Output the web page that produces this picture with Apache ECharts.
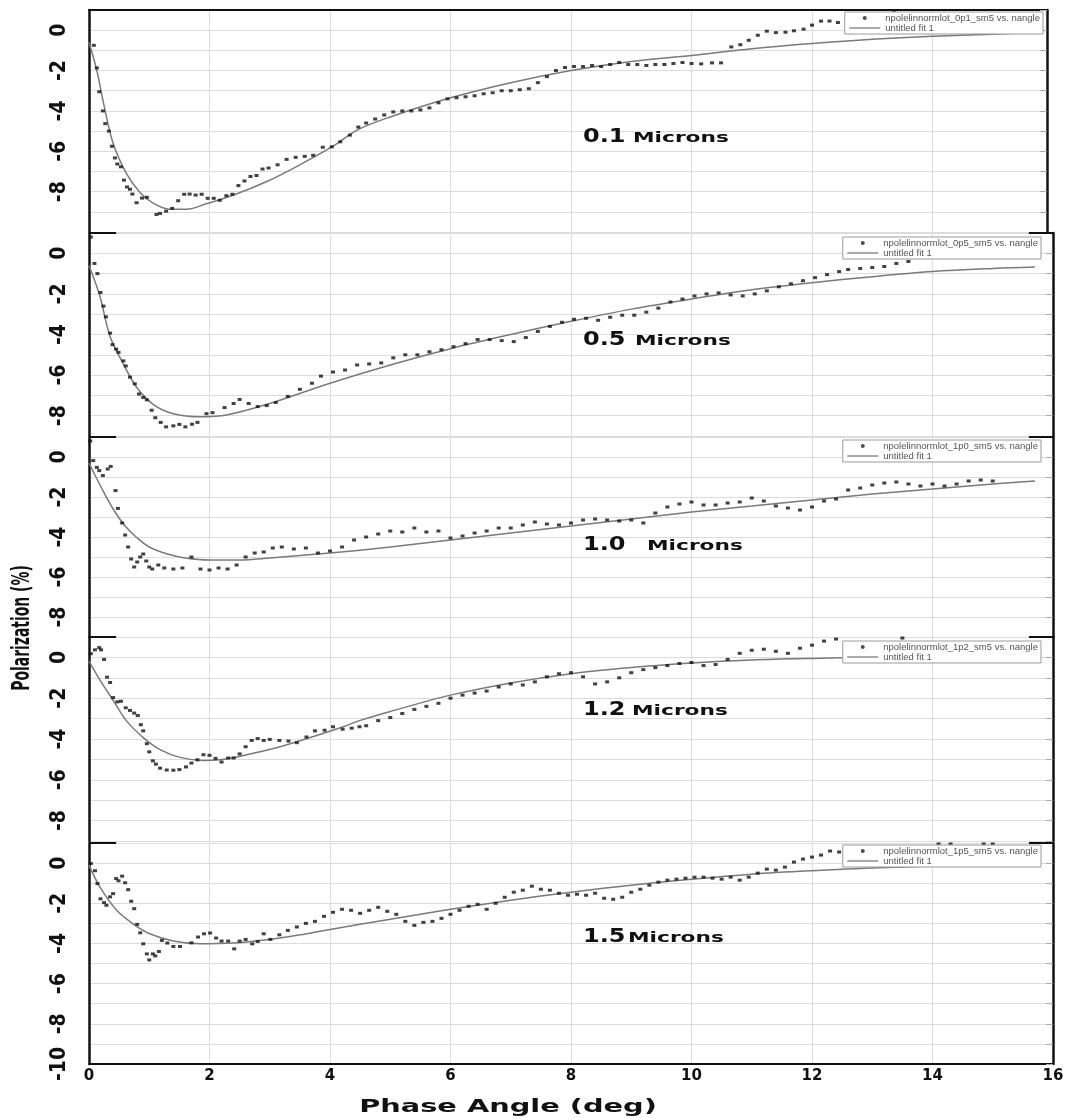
<!DOCTYPE html>
<html>
<head>
<meta charset="utf-8">
<script src="https://cdn.jsdelivr.net/npm/echarts@6/dist/echarts.min.js"></script>
<style>
  html, body { margin: 0; padding: 0; background: #ffffff; }
  #chart { width: 1078px; height: 1118px; }
</style>
</head>
<body>
<div id="chart"></div>
<script>
// ---------------- data ----------------
const sizeLabels = ['0.1', '0.5', '1.0', '1.2', '1.5'];
const dataNames = [
  'npolelinnormlot_0p1_sm5 vs. nangle',
  'npolelinnormlot_0p5_sm5 vs. nangle',
  'npolelinnormlot_1p0_sm5 vs. nangle',
  'npolelinnormlot_1p2_sm5 vs. nangle',
  'npolelinnormlot_1p5_sm5 vs. nangle'
];
const fitName = 'untitled fit 1';

// 0.1 micron: measured polarization (%) vs phase angle (deg)
const angle01 = [0.08,0.13,0.17,0.23,0.27,0.33,0.38,0.43,0.47,0.53,0.58,0.63,0.68,0.72,0.79,0.88,0.96,1.12,1.18,1.28,1.38,1.48,1.58,1.67,1.77,1.87,1.97,2.07,2.17,2.28,2.38,2.48,2.58,2.68,2.78,2.88,2.98,3.13,3.28,3.43,3.58,3.72,3.88,4.03,4.17,4.33,4.47,4.6,4.75,4.9,5.05,5.2,5.35,5.5,5.65,5.8,5.95,6.1,6.25,6.4,6.55,6.7,6.85,7.0,7.15,7.3,7.45,7.6,7.75,7.9,8.05,8.2,8.35,8.5,8.65,8.8,8.95,9.1,9.25,9.4,9.55,9.7,9.85,10.0,10.16,10.34,10.49,10.66,10.81,10.95,11.1,11.25,11.4,11.56,11.7,11.86,12.0,12.15,12.29,12.43,13.36];
const pol01   = [-0.75,-1.87,-3.05,-4.0,-4.63,-5.0,-5.75,-6.33,-6.63,-6.77,-7.43,-7.77,-7.88,-8.12,-8.55,-8.32,-8.28,-9.13,-9.08,-8.97,-8.83,-8.45,-8.13,-8.12,-8.17,-8.13,-8.33,-8.33,-8.43,-8.2,-8.13,-7.7,-7.47,-7.25,-7.2,-6.88,-6.83,-6.67,-6.4,-6.3,-6.25,-6.2,-5.8,-5.78,-5.53,-5.2,-4.8,-4.6,-4.4,-4.2,-4.05,-4.0,-4.0,-3.95,-3.85,-3.6,-3.4,-3.35,-3.3,-3.25,-3.15,-3.1,-3.0,-3.0,-2.95,-2.9,-2.6,-2.3,-2.0,-1.85,-1.8,-1.8,-1.75,-1.8,-1.7,-1.6,-1.7,-1.7,-1.75,-1.7,-1.7,-1.65,-1.6,-1.65,-1.67,-1.62,-1.62,-0.83,-0.72,-0.5,-0.25,-0.05,-0.12,-0.1,-0.03,0.05,0.25,0.45,0.45,0.38,0.87];
const fitAngle01 = [0,0.13,0.24,0.4,0.63,0.85,1.07,1.34,1.62,1.95,2.4,2.95,3.5,4.05,4.45,5,6,7,8,9,10,11,12,13,14,15,15.7];
const fit01      = [-0.6,-2.0,-3.6,-5.6,-7.15,-8.05,-8.58,-8.87,-8.87,-8.6,-8.17,-7.5,-6.67,-5.75,-4.95,-4.3,-3.35,-2.6,-2.0,-1.55,-1.25,-0.92,-0.66,-0.45,-0.3,-0.2,-0.12];

// 0.5 micron
const angle05 = [0.03,0.09,0.14,0.19,0.24,0.28,0.35,0.39,0.45,0.49,0.57,0.61,0.68,0.76,0.83,0.9,0.96,1.04,1.1,1.19,1.28,1.4,1.5,1.6,1.71,1.8,1.95,2.05,2.25,2.4,2.5,2.65,2.8,2.95,3.1,3.3,3.5,3.7,3.85,4.05,4.25,4.45,4.65,4.85,5.05,5.25,5.45,5.65,5.85,6.05,6.25,6.45,6.65,6.85,7.05,7.25,7.45,7.65,7.85,8.05,8.25,8.45,8.65,8.85,9.05,9.25,9.45,9.65,9.85,10.05,10.25,10.45,10.65,10.85,11.05,11.25,11.45,11.65,11.85,12.05,12.25,12.45,12.6,12.8,13.0,13.2,13.4,13.6,13.8,14.0,14.2,14.42];
const pol05   = [0.8,-0.5,-1.0,-1.93,-2.6,-3.13,-3.93,-4.5,-4.72,-4.88,-5.3,-5.55,-6.1,-6.43,-6.93,-7.1,-7.22,-7.73,-8.1,-8.33,-8.55,-8.5,-8.43,-8.55,-8.42,-8.33,-7.9,-7.85,-7.6,-7.4,-7.2,-7.4,-7.55,-7.5,-7.35,-7.05,-6.7,-6.4,-6.05,-5.85,-5.75,-5.5,-5.45,-5.4,-5.15,-5.0,-5.0,-4.85,-4.75,-4.6,-4.45,-4.25,-4.25,-4.3,-4.35,-4.15,-3.85,-3.6,-3.4,-3.25,-3.2,-3.3,-3.15,-3.05,-3.05,-2.9,-2.7,-2.4,-2.25,-2.1,-2.0,-1.95,-2.05,-2.1,-2.0,-1.85,-1.65,-1.5,-1.35,-1.2,-1.05,-0.9,-0.8,-0.75,-0.7,-0.65,-0.5,-0.4,-0.2,-0.05,0.15,0.1];
const fitAngle05 = [0,0.18,0.35,0.57,0.79,1.07,1.4,1.84,2.3,3,4,5,6,7,8,9,10,11,12,13,14,15,15.7];
const fit05      = [-0.6,-2.1,-4.1,-5.45,-6.6,-7.45,-7.9,-8.05,-7.95,-7.4,-6.4,-5.5,-4.7,-4.0,-3.35,-2.75,-2.25,-1.8,-1.45,-1.15,-0.9,-0.75,-0.68];

// 1.0 micron
const angle10 = [0.02,0.07,0.13,0.17,0.23,0.31,0.36,0.44,0.48,0.55,0.6,0.65,0.7,0.75,0.8,0.85,0.9,0.95,1.0,1.05,1.15,1.25,1.4,1.55,1.7,1.85,2.0,2.15,2.3,2.45,2.6,2.75,2.9,3.05,3.2,3.4,3.6,3.8,4.0,4.2,4.4,4.6,4.8,5.0,5.2,5.4,5.6,5.8,6.0,6.2,6.4,6.6,6.8,7.0,7.2,7.4,7.6,7.8,8.0,8.2,8.4,8.6,8.8,9.0,9.2,9.4,9.6,9.8,10.0,10.2,10.4,10.6,10.8,11.0,11.2,11.4,11.6,11.8,12.0,12.2,12.4,12.6,12.8,13.0,13.2,13.4,13.6,13.8,14.0,14.2,14.4,14.6,14.8,15.0];
const pol10   = [0.8,-0.18,-0.52,-0.68,-0.93,-0.6,-0.47,-1.68,-2.57,-3.3,-3.9,-4.5,-5.1,-5.5,-5.25,-5.0,-4.85,-5.2,-5.5,-5.6,-5.4,-5.55,-5.6,-5.55,-5.0,-5.6,-5.65,-5.55,-5.6,-5.4,-5.0,-4.8,-4.75,-4.55,-4.5,-4.6,-4.55,-4.8,-4.7,-4.5,-4.15,-4.0,-3.85,-3.7,-3.75,-3.55,-3.75,-3.7,-4.05,-3.95,-3.8,-3.7,-3.55,-3.55,-3.4,-3.25,-3.35,-3.4,-3.3,-3.15,-3.1,-3.15,-3.2,-3.15,-3.3,-2.8,-2.5,-2.35,-2.25,-2.4,-2.4,-2.3,-2.25,-2.05,-2.2,-2.45,-2.55,-2.65,-2.5,-2.2,-2.1,-1.65,-1.55,-1.4,-1.3,-1.25,-1.35,-1.45,-1.35,-1.45,-1.35,-1.2,-1.15,-1.2];
const fitAngle10 = [0,0.2,0.4,0.6,0.8,1.0,1.3,1.6,2.0,2.5,3,4,5,6,7,8,9,10,11,12,13,14,15,15.7];
const fit10      = [-0.3,-1.5,-2.6,-3.45,-4.05,-4.5,-4.85,-5.05,-5.15,-5.15,-5.05,-4.8,-4.5,-4.15,-3.8,-3.45,-3.1,-2.75,-2.45,-2.15,-1.85,-1.6,-1.35,-1.2];

// 1.2 micron
const angle12 = [0.03,0.1,0.17,0.2,0.25,0.3,0.35,0.4,0.47,0.53,0.61,0.68,0.75,0.81,0.86,0.9,0.96,1.0,1.06,1.11,1.18,1.29,1.4,1.5,1.61,1.7,1.8,1.9,2.0,2.1,2.2,2.31,2.4,2.5,2.6,2.7,2.8,2.9,3.0,3.16,3.31,3.45,3.61,3.75,3.91,4.05,4.21,4.36,4.49,4.6,4.8,5.0,5.2,5.4,5.6,5.8,6.0,6.2,6.4,6.6,6.8,7.0,7.2,7.4,7.6,7.8,8.0,8.2,8.4,8.6,8.8,9.0,9.2,9.4,9.6,9.8,10.0,10.2,10.4,10.6,10.8,11.0,11.2,11.4,11.6,11.8,12.0,12.2,12.4,13.5];
const pol12   = [0.18,0.37,0.48,0.37,-0.1,-0.97,-1.23,-1.97,-2.18,-2.15,-2.47,-2.6,-2.73,-2.85,-3.3,-3.6,-4.23,-4.63,-5.07,-5.23,-5.43,-5.52,-5.53,-5.5,-5.37,-5.18,-5.02,-4.77,-4.8,-4.95,-5.13,-4.93,-4.93,-4.73,-4.38,-4.07,-3.98,-4.07,-4.02,-4.07,-4.1,-4.18,-3.9,-3.6,-3.57,-3.4,-3.52,-3.47,-3.4,-3.35,-3.1,-2.95,-2.75,-2.55,-2.4,-2.25,-2.0,-1.85,-1.75,-1.65,-1.45,-1.3,-1.35,-1.2,-0.95,-0.8,-0.75,-0.95,-1.3,-1.2,-1.0,-0.75,-0.6,-0.5,-0.4,-0.3,-0.25,-0.4,-0.35,-0.1,0.2,0.35,0.4,0.3,0.2,0.45,0.6,0.8,0.9,0.95];
const fitAngle12 = [0,0.18,0.4,0.62,0.9,1.18,1.51,1.9,2.17,2.62,3.11,3.67,4.22,4.49,5,6,7,8,9,10,11,12,13,14,15,15.7];
const fit12      = [-0.18,-1.1,-2.1,-3.1,-3.93,-4.52,-4.9,-5.05,-5.02,-4.77,-4.43,-3.93,-3.4,-3.1,-2.65,-1.85,-1.25,-0.8,-0.5,-0.28,-0.13,-0.05,0.0,0.02,0.04,0.05];

// 1.5 micron
const angle15 = [0.03,0.1,0.14,0.19,0.25,0.29,0.35,0.4,0.45,0.49,0.55,0.6,0.65,0.7,0.75,0.8,0.85,0.9,0.96,1.0,1.06,1.1,1.16,1.21,1.3,1.4,1.51,1.7,1.81,1.91,2.01,2.11,2.2,2.31,2.41,2.5,2.6,2.71,2.8,2.9,3.01,3.16,3.3,3.45,3.6,3.75,3.9,4.05,4.2,4.35,4.5,4.65,4.8,4.95,5.1,5.25,5.4,5.55,5.7,5.85,6.0,6.15,6.3,6.45,6.6,6.75,6.9,7.05,7.2,7.35,7.5,7.65,7.8,7.95,8.1,8.25,8.4,8.55,8.7,8.85,9.0,9.15,9.3,9.45,9.6,9.75,9.9,10.05,10.2,10.35,10.5,10.65,10.8,10.95,11.1,11.25,11.4,11.55,11.7,11.85,12.0,12.15,12.3,12.45,14.1,14.3,14.85,15.0];
const pol15   = [-0.02,-0.38,-1.02,-1.78,-1.97,-2.1,-1.68,-1.52,-0.77,-0.88,-0.65,-0.98,-1.32,-1.9,-2.27,-3.05,-3.47,-4.02,-4.52,-4.82,-4.52,-4.62,-4.4,-3.85,-3.98,-4.15,-4.15,-3.97,-3.68,-3.52,-3.48,-3.73,-3.88,-3.88,-4.27,-3.88,-3.8,-4.02,-3.9,-3.52,-3.8,-3.57,-3.35,-3.18,-3.0,-2.9,-2.65,-2.45,-2.3,-2.35,-2.5,-2.35,-2.2,-2.4,-2.55,-2.9,-3.1,-2.95,-2.9,-2.75,-2.55,-2.35,-2.15,-2.05,-2.3,-2.0,-1.7,-1.45,-1.35,-1.15,-1.3,-1.35,-1.5,-1.6,-1.55,-1.6,-1.5,-1.75,-1.8,-1.7,-1.45,-1.3,-1.1,-0.95,-0.85,-0.8,-0.75,-0.7,-0.7,-0.75,-0.8,-0.7,-0.85,-0.7,-0.5,-0.3,-0.35,-0.2,0.05,0.2,0.3,0.4,0.6,0.55,0.95,0.95,0.95,0.95];
const fitAngle15 = [0,0.18,0.46,0.73,1.01,1.4,1.84,2.39,2.95,3.5,4,5,6,7,8,9,10,11,12,13,14,15,15.7];
const fit15      = [-0.1,-1.18,-2.35,-3.02,-3.52,-3.88,-4.02,-3.98,-3.82,-3.57,-3.3,-2.8,-2.3,-1.85,-1.45,-1.1,-0.8,-0.55,-0.38,-0.25,-0.15,-0.08,-0.05];

const measured = [[angle01, pol01], [angle05, pol05], [angle10, pol10], [angle12, pol12], [angle15, pol15]];
const fitted   = [[fitAngle01, fit01], [fitAngle05, fit05], [fitAngle10, fit10], [fitAngle12, fit12], [fitAngle15, fit15]];

// ---------------- layout ----------------
const plotLeft = 89;
const panels = [
  { top: 10,  height: 222, yMin: -10, yMax: 1, xMax: 15.9, right: 31, legendTop: 12,  legendRight: 35, labelY: 137 },
  { top: 233, height: 203, yMin: -9,  yMax: 1, xMax: 16,   right: 25, legendTop: 237, legendRight: 37, labelY: 340 },
  { top: 437, height: 200, yMin: -9,  yMax: 1, xMax: 16,   right: 25, legendTop: 440, legendRight: 37, labelY: 545 },
  { top: 637, height: 204, yMin: -9,  yMax: 1, xMax: 16,   right: 25, legendTop: 641, legendRight: 37, labelY: 710 },
  { top: 843, height: 221, yMin: -10, yMax: 1, xMax: 16,   right: 25, legendTop: 845, legendRight: 37, labelY: 937 }
];
// horizontal start of the "Microns" word in each panel
const micronsX = [633, 635, 647, 632, 628];

const gridColor = '#dcdcdc';
const pairs = (xs, ys) => xs.map((x, i) => [x, ys[i]]);

const grid = [], xAxis = [], yAxis = [], series = [], legend = [], graphic = [];

panels.forEach((p, i) => {
  const last = i === panels.length - 1;
  grid.push({ left: plotLeft, right: p.right, top: p.top, height: p.height, containLabel: false });

  xAxis.push({
    type: 'value', gridIndex: i, min: 0, max: p.xMax, interval: 2, position: 'bottom',
    axisLine: { show: last, onZero: false, lineStyle: { color: '#111', width: 2 } },
    axisTick: { show: false },
    axisLabel: {
      show: last, margin: 5, color: '#111',
      fontFamily: 'DejaVu Sans', fontWeight: 'bold', fontSize: 15
    },
    splitLine: { show: true, lineStyle: { color: gridColor, width: 1 } }
  });

  // left axis: polarization scale, labelled every 2 %
  yAxis.push({
    type: 'value', gridIndex: i, min: p.yMin, max: p.yMax, interval: 1, position: 'left',
    axisLine: { show: true, onZero: false, lineStyle: { color: '#111', width: 2.5 } },
    axisTick: { show: false },
    axisLabel: {
      show: true, rotate: 90, margin: 19, color: '#111',
      fontFamily: '"Liberation Sans Narrow", "DejaVu Sans Condensed", sans-serif',
      fontWeight: 'bold', fontSize: 21,
      formatter: v => {
        if (v === 1) return '';
        if (v === -10 && !last) return '';
        return v % 2 === 0 ? String(v) : '';
      }
    },
    splitLine: { show: true, lineStyle: { color: gridColor, width: 1 } }
  });
  // right frame edge with short inner ticks
  yAxis.push({
    type: 'value', gridIndex: i, min: p.yMin, max: p.yMax, interval: 1, position: 'right',
    axisLine: { show: true, onZero: false, lineStyle: { color: '#111', width: 2.5 } },
    axisTick: { show: true, inside: true, length: 7, lineStyle: { color: '#aaa', width: 1 } },
    axisLabel: { show: false },
    splitLine: { show: false }
  });

  const [xs, ys] = measured[i];
  const [fx, fy] = fitted[i];

  series.push({
    name: dataNames[i], type: 'scatter', xAxisIndex: i, yAxisIndex: 2 * i,
    symbol: 'rect', symbolSize: [4, 3],
    itemStyle: { color: '#111' },
    data: pairs(xs, ys), silent: true, z: 3
  });
  const stubs = [];
  if (i > 0) {
    stubs.push([{ coord: [0, p.yMax] }, { coord: [0.45, p.yMax] }]);
    stubs.push([{ coord: [p.xMax - 0.4, p.yMax] }, { coord: [p.xMax, p.yMax] }]);
  }
  series.push({
    name: fitName, type: 'line', xAxisIndex: i, yAxisIndex: 2 * i,
    data: pairs(fx, fy), smooth: 0.35, showSymbol: false, symbol: 'none',
    lineStyle: { color: '#7a7a7a', width: 1.5 }, silent: true, z: 2,
    markLine: {
      silent: true, symbol: 'none', label: { show: false },
      lineStyle: { color: '#111', width: 2, type: 'solid' },
      animation: false, data: stubs
    }
  });

  legend.push({
    show: true, orient: 'vertical', right: p.legendRight, top: p.legendTop,
    data: [
      { name: dataNames[i], icon: 'circle', itemStyle: { color: '#222' } },
      { name: fitName, itemStyle: { opacity: 0 }, lineStyle: { color: '#555', width: 1 } }
    ],
    itemWidth: 31, itemHeight: 4, itemGap: 0,
    padding: [1, 3, 1, 4], backgroundColor: '#ffffff',
    borderColor: '#9a9a9a', borderWidth: 1,
    selectedMode: false,
    textStyle: { fontFamily: 'Liberation Sans', fontSize: 9.5, lineHeight: 8, color: '#555' }
  });

  // particle size annotation
  graphic.push({
    type: 'text', x: 583, y: p.labelY, scaleX: 1.2, z: 20,
    style: {
      text: sizeLabels[i], verticalAlign: 'middle', align: 'left',
      font: 'bold 20px "DejaVu Sans"', fill: '#111'
    }
  });
  graphic.push({
    type: 'text', x: micronsX[i], y: p.labelY + 1, scaleX: 1.55, z: 20,
    style: {
      text: 'Microns', verticalAlign: 'middle', align: 'left',
      font: 'bold 14px "DejaVu Sans"', fill: '#111'
    }
  });
});

// top border of the first panel
xAxis.push({
  type: 'value', gridIndex: 0, min: 0, max: panels[0].xMax, position: 'top',
  axisLine: { show: true, onZero: false, lineStyle: { color: '#111', width: 2 } },
  axisTick: { show: false }, axisLabel: { show: false }, splitLine: { show: false }
});

// axis titles
graphic.push({
  type: 'text', x: 508, y: 1107, scaleX: 1.6, z: 20,
  style: {
    text: 'Phase Angle (deg)', align: 'center', verticalAlign: 'middle',
    font: 'bold 18px "DejaVu Sans"', fill: '#111'
  }
});
graphic.push({
  type: 'text', x: 22, y: 628, rotation: Math.PI / 2, scaleX: 0.62, z: 20,
  style: {
    text: 'Polarization (%)', align: 'center', verticalAlign: 'middle',
    font: 'bold 25px "Liberation Sans Narrow", "DejaVu Sans Condensed", sans-serif', fill: '#111'
  }
});

const chart = echarts.init(document.getElementById('chart'), null, { renderer: 'canvas' });
chart.setOption({
  animation: false,
  backgroundColor: '#ffffff',
  grid, xAxis, yAxis, series, legend, graphic
});
</script>
</body>
</html>
